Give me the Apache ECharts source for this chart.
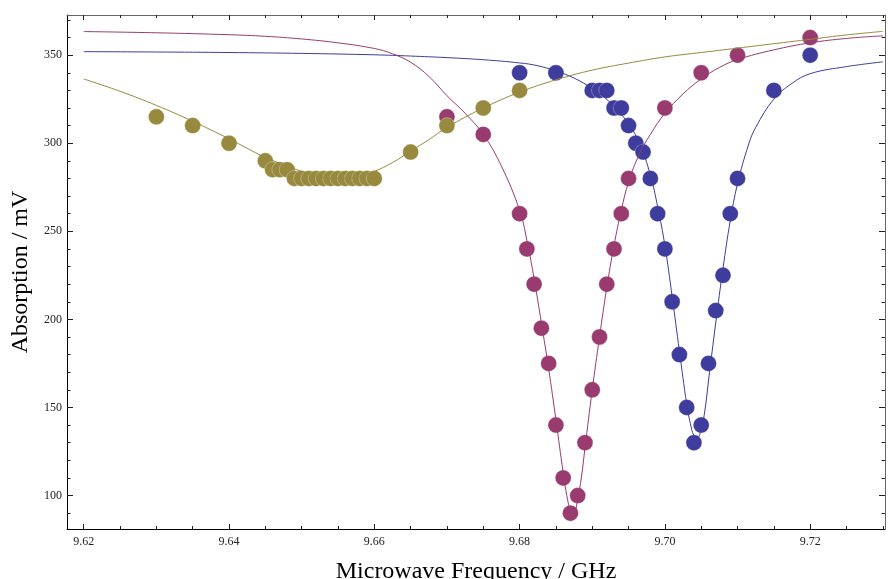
<!DOCTYPE html>
<html lang="en">
<head>
    <meta charset="UTF-8">
    <title>Absorption</title>
    <script src="https://cdn.jsdelivr.net/npm/echarts@6/dist/echarts.min.js"></script>
</head>
<style>
html,body{margin:0;padding:0;background:#fff;}
#chartBox{width:888px;height:579px;}
</style>
<body>
    <div id="chartBox"></div>
</body>
<script>
// measured points (GHz, mV)
const bluePoints = [[9.68,340],[9.685,340],[9.69,330],[9.691,330],[9.692,330],[9.693,320],[9.694,320],[9.695,310],[9.696,300],[9.697,295],[9.698,280],[9.699,260],[9.70,240],[9.701,210],[9.702,180],[9.703,150],[9.704,130],[9.705,140],[9.706,175],[9.707,205],[9.708,225],[9.709,260],[9.71,280],[9.715,330],[9.72,350]];
const purplePoints = [[9.67,315],[9.675,305],[9.68,260],[9.681,240],[9.682,220],[9.683,195],[9.684,175],[9.685,140],[9.686,110],[9.687,90],[9.688,100],[9.689,130],[9.69,160],[9.691,190],[9.692,220],[9.693,240],[9.694,260],[9.695,280],[9.70,320],[9.705,340],[9.71,350],[9.72,360]];
const olivePoints = [[9.63,315],[9.635,310],[9.64,300],[9.645,290],[9.646,285],[9.647,285],[9.648,285],[9.649,280],[9.65,280],[9.651,280],[9.652,280],[9.653,280],[9.654,280],[9.655,280],[9.656,280],[9.657,280],[9.658,280],[9.659,280],[9.66,280],[9.665,295],[9.67,310],[9.675,320],[9.68,330]];

// fitted curves
const blueFit = [[9.62,352],[9.63,351.8],[9.64,351.5],[9.65,351],[9.66,350.2],[9.665,349.5],[9.67,348.6],[9.675,347.4],[9.68,345.6],[9.6825,344],[9.685,341],[9.6875,337],[9.69,331],[9.6925,323],[9.695,311],[9.6965,300],[9.698,282],[9.699,264],[9.70,242],[9.701,213],[9.702,182],[9.703,152],[9.7035,141],[9.704,134],[9.7045,133],[9.705,138],[9.7055,148],[9.706,165],[9.707,198],[9.708,229],[9.709,256],[9.71,277],[9.7115,299],[9.7125,309],[9.715,325],[9.7175,334],[9.72,339.5],[9.725,343.5],[9.73,346.2]];
const purpleFit = [[9.62,363.4],[9.63,362.7],[9.64,361.6],[9.645,360.7],[9.65,359.2],[9.655,357],[9.66,353.8],[9.6625,350.8],[9.665,346],[9.6675,338],[9.67,327],[9.6725,317],[9.675,305],[9.6775,287],[9.68,262],[9.681,245],[9.682,223],[9.683,198],[9.684,172],[9.685,143],[9.686,113],[9.6865,100],[9.687,92],[9.6875,91],[9.688,98],[9.6885,110],[9.689,127],[9.69,160],[9.691,190],[9.692,218],[9.693,242],[9.694,262],[9.695,278],[9.6965,294],[9.698,305],[9.70,317],[9.7025,328],[9.705,336.5],[9.7075,343],[9.71,347.5],[9.715,353],[9.72,357],[9.725,359.5],[9.73,361]];
const oliveFit = [[9.62,336.5],[9.625,329.5],[9.63,321.5],[9.635,312.5],[9.64,302.5],[9.645,292],[9.65,284],[9.6525,281],[9.655,280],[9.6575,280.5],[9.66,284],[9.6625,289],[9.665,295.5],[9.6675,302],[9.67,309],[9.675,320],[9.68,329],[9.685,336],[9.69,341.5],[9.695,345.5],[9.70,349],[9.705,351.5],[9.71,354],[9.715,356.5],[9.72,359],[9.725,361.5],[9.73,363.5]];

// ticks
const xMajor = [9.62, 9.64, 9.66, 9.68, 9.70, 9.72];
const xMinor = [9.625, 9.63, 9.635, 9.645, 9.65, 9.655, 9.665, 9.67, 9.675, 9.685, 9.69, 9.695, 9.705, 9.71, 9.715, 9.725, 9.73];
const yMajor = [100, 150, 200, 250, 300, 350];
const yMinor = [90, 110, 120, 130, 140, 160, 170, 180, 190, 210, 220, 230, 240, 260, 270, 280, 290, 310, 320, 330, 340, 360, 370];

const COLORS = {blue: '#3e3c9c', purple: '#993b6f', olive: '#978a3e'};
const SERIF = "'Liberation Serif', 'DejaVu Serif', serif";
const X_MIN = 9.6177, X_MAX = 9.7303, Y_MIN = 81, Y_MAX = 372.8;

// one frame side: line + ticks, optionally labels
function frameAxis(kind, position, ticks, tickLen, lineColor, labels) {
    let axis = {
        type: 'value',
        position: position,
        min: kind === 'x' ? X_MIN : Y_MIN,
        max: kind === 'x' ? X_MAX : Y_MAX,
        splitLine: {show: false},
        axisLine: {show: !!lineColor, onZero: false, lineStyle: {color: lineColor || '#000', width: 1}},
        axisTick: {show: true, inside: true, length: tickLen, customValues: ticks,
                   lineStyle: {color: '#222', width: 1}},
        axisLabel: {show: false}
    };
    if (labels) {
        axis.axisLabel = {
            show: true,
            customValues: labels,
            margin: kind === 'x' ? 7 : 5,
            fontFamily: SERIF,
            fontSize: 12,
            color: '#222',
            formatter: v => kind === 'x' ? v.toFixed(2) : String(Math.round(v))
        };
    }
    return axis;
}

function dotSeries(name, data, color) {
    return {
        type: 'scatter', name: name, data: data,
        symbolSize: 16, z: 2,
        itemStyle: {color: color, opacity: 1, borderColor: 'rgba(255,255,255,0.5)', borderWidth: 0.6}
    };
}

function fitSeries(name, data, color) {
    return {
        type: 'line', name: name, data: data,
        showSymbol: false, symbol: 'none', z: 3,
        smooth: 0.4,
        lineStyle: {color: color, width: 1}
    };
}

let chartObj = echarts.init(document.getElementById('chartBox'), null, {renderer: 'canvas'});

let xBottom = frameAxis('x', 'bottom', xMajor, 5, '#000', xMajor);
xBottom.name = 'Microwave Frequency / GHz';
xBottom.nameLocation = 'middle';
xBottom.nameGap = 31;
xBottom.nameTextStyle = {fontFamily: SERIF, fontSize: 24, color: '#000', verticalAlign: 'top', align: 'center'};

let yLeft = frameAxis('y', 'left', yMajor, 6, '#000', yMajor);
yLeft.name = 'Absorption / mV';
yLeft.nameLocation = 'middle';
yLeft.nameGap = 31;
yLeft.nameTextStyle = {fontFamily: SERIF, fontSize: 24, color: '#000', verticalAlign: 'bottom', align: 'center'};

let option = {
    animation: false,
    backgroundColor: '#fff',
    grid: {left: 67, right: 3, top: 15, bottom: 50, containLabel: false, outerBoundsMode: 'none'},
    xAxis: [
        xBottom,
        frameAxis('x', 'bottom', xMinor, 3, null, null),
        frameAxis('x', 'top', xMajor, 5, '#666', null),
        frameAxis('x', 'top', xMinor, 3, null, null)
    ],
    yAxis: [
        yLeft,
        frameAxis('y', 'left', yMinor, 3.5, null, null),
        frameAxis('y', 'right', yMajor, 6, '#666', null),
        frameAxis('y', 'right', yMinor, 3.5, null, null)
    ],
    series: [
        dotSeries('blue', bluePoints, COLORS.blue),
        dotSeries('purple', purplePoints, COLORS.purple),
        dotSeries('olive', olivePoints, COLORS.olive),
        fitSeries('blueFit', blueFit, COLORS.blue),
        fitSeries('purpleFit', purpleFit, COLORS.purple),
        fitSeries('oliveFit', oliveFit, COLORS.olive)
    ]
};
chartObj.setOption(option);
</script>
</html>
